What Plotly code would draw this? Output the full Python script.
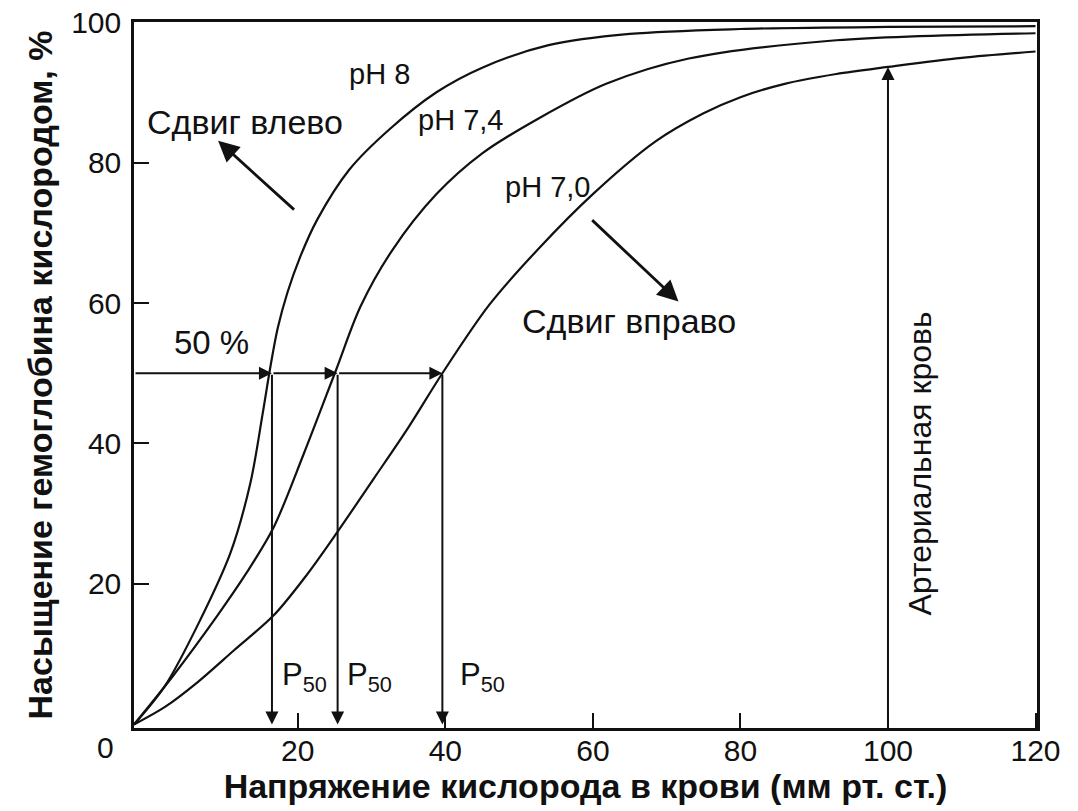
import numpy as np
import plotly.graph_objects as go

# ---- data ----
x_ph8 = [-2.2, 2, 6.6, 10.9, 13.6, 15.2, 16.3, 17.3, 18.6, 20.3, 22.6, 27, 32.4, 38.8, 45, 54, 65, 80, 100, 120]
y_ph8 = [0, 5.5, 14.5, 24.5, 34.5, 44, 51, 56.5, 61.5, 66.5, 71.8, 79, 84.7, 90, 93.5, 96.7, 98.3, 99.0, 99.3, 99.4]

x_ph74 = [-2.2, 3, 9.1, 13, 16.7, 20.8, 25.2, 28.5, 32.8, 38.8, 45, 52.7, 61.8, 73, 93, 120]
y_ph74 = [0, 6.8, 15.5, 21.5, 28, 38.5, 50.5, 59.5, 67.5, 75.5, 81.3, 86.3, 91.2, 94.8, 97.4, 98.4]

x_ph70 = [-2.2, 2, 6.4, 11.4, 16.7, 21, 25.1, 30.3, 35, 39.6, 46, 52.7, 60, 68.5, 75, 80, 86, 93, 100, 110, 120]
y_ph70 = [0, 2.5, 6, 10.6, 15.5, 21, 27, 35, 42.3, 50, 59.8, 67.8, 75.5, 83, 87, 89.3, 91.2, 92.6, 93.6, 94.9, 95.8]

p50_values = [16.5, 25.4, 39.6]
half_saturation = 50
arterial_po2 = 100

x_ticks = [20, 40, 60, 80, 100, 120]
y_ticks = [20, 40, 60, 80, 100]
x_range = [-2.2, 120.2]
y_range = [-0.5, 100]

FONT = "Liberation Sans, Arial, sans-serif"
BLACK = "#111111"

fig = go.Figure()
for xs, ys in [(x_ph8, y_ph8), (x_ph74, y_ph74), (x_ph70, y_ph70)]:
    fig.add_trace(go.Scatter(x=xs, y=ys, mode="lines",
                             line=dict(color=BLACK, width=2.2, shape="spline", smoothing=0.9),
                             showlegend=False, hoverinfo="skip"))

ann = []
def arrow(x0, y0, x1, y1, size=1.3, head=2, width=2):
    ann.append(dict(x=x1, y=y1, ax=x0, ay=y0, xref="x", yref="y", axref="x", ayref="y",
                    showarrow=True, arrowhead=head, arrowsize=size, arrowwidth=width,
                    arrowcolor=BLACK, text=""))

# 50 % horizontal arrows and P50 vertical arrows
starts = [x_range[0]] + p50_values[:-1]
for s, p in zip(starts, p50_values):
    arrow(s, half_saturation, p, half_saturation)
for p in p50_values:
    arrow(p, half_saturation, p, 0)

# arterial blood arrow up to pH 7.0 curve
arrow(arterial_po2, 0, arterial_po2, float(np.interp(arterial_po2, x_ph70, y_ph70)))

# shift arrows
arrow(19.7, 73.1, 9.2, 83.1, size=1.5, head=2, width=2.8)
arrow(59.7, 72.0, 71.6, 60.2, size=1.5, head=2, width=2.8)

def text(x, y, t, size=28, angle=0):
    ann.append(dict(x=x, y=y, xref="x", yref="y", text=t, showarrow=False, textangle=angle,
                    xanchor="center", yanchor="middle",
                    font=dict(family=FONT, size=size, color=BLACK)))

text(31.1, 92.6, "pH 8", size=29)
text(42.1, 86.0, "pH 7,4", size=29)
text(53.8, 76.5, "pH 7,0", size=29)
text(12.9, 85.7, "Сдвиг влево", size=34)
text(64.9, 57.5, "Сдвиг вправо", size=34)
text(8.3, 54.4, "50 %", size=33)
for p, dx in zip(p50_values, [4.4, 4.3, 5.5]):
    text(p + dx, 6.8, "P<sub>50</sub>", size=31)
text(104.3, 37.1, "Артериальная кровь", size=32, angle=-90)

# shared origin label at the corner (paper coordinates, outside the plot area)
ann.append(dict(x=-0.032, y=-0.028, xref="paper", yref="paper", text="0", showarrow=False,
                xanchor="center", yanchor="middle",
                font=dict(family=FONT, size=30, color=BLACK)))

fig.update_layout(
    width=1070, height=803,
    margin=dict(l=126, r=41, t=14, b=83),
    paper_bgcolor="white", plot_bgcolor="white",
    annotations=ann,
    font=dict(family=FONT, color=BLACK),
)
fig.update_xaxes(range=x_range, tickvals=x_ticks, ticks="inside", ticklen=15, tickwidth=2,
                 tickcolor=BLACK, showline=True, linewidth=2.5, linecolor=BLACK, mirror=True,
                 showgrid=False, zeroline=False, tickfont=dict(size=30, family=FONT),
                 ticklabelstandoff=-6, automargin=False, ticklabeloverflow="allow",
                 title=dict(text="<b>Напряжение кислорода в крови (мм рт. ст.)</b>",
                            font=dict(size=34, family=FONT), standoff=6))
fig.update_yaxes(range=y_range, tickvals=y_ticks, ticks="inside", ticklen=15, tickwidth=2,
                 tickcolor=BLACK, showline=True, linewidth=2.5, linecolor=BLACK, mirror=True,
                 showgrid=False, zeroline=False, tickfont=dict(size=30, family=FONT),
                 ticklabelstandoff=4, automargin=False, ticklabeloverflow="allow",
                 title=dict(text="<b>Насыщение гемоглобина кислородом, %</b>",
                            font=dict(size=34, family=FONT), standoff=9))

fig.write_html("out.html")
